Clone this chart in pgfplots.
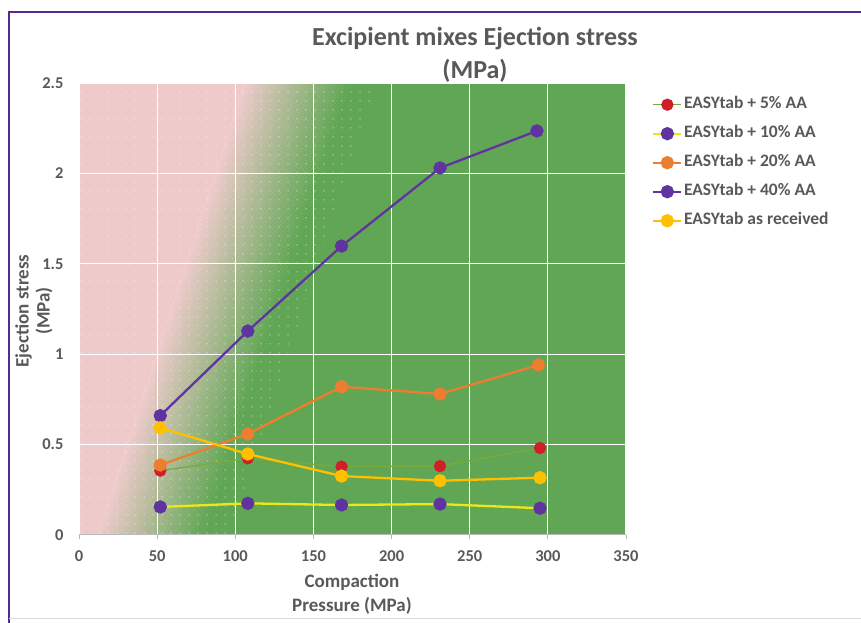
\documentclass[border=0pt]{standalone}
\usepackage{fontspec}
\setmainfont{Carlito}
\usepackage{pgfplots}
\pgfplotsset{compat=1.18}
\usetikzlibrary{patterns.meta}

\definecolor{txtgray}{RGB}{89,89,89}
\definecolor{framepurple}{RGB}{88,40,140}
\definecolor{pinkbg}{RGB}{238,202,202}
\definecolor{greenbg}{RGB}{96,166,84}
\definecolor{olive}{RGB}{120,170,60}
\definecolor{redmk}{RGB}{210,30,40}
\definecolor{yel}{RGB}{236,232,24}
\definecolor{purp}{RGB}{96,52,160}
\definecolor{orng}{RGB}{237,125,49}
\definecolor{gold}{RGB}{255,192,0}

% series: compaction pressure (MPa) vs ejection stress (MPa)
\pgfplotstableread{
x y
52 0.356
108 0.424
168 0.378
231 0.381
295 0.481
}\fivepct
\pgfplotstableread{
x y
52 0.155
108 0.175
168 0.166
231 0.171
295 0.148
}\tenpct
\pgfplotstableread{
x y
52 0.387
108 0.559
168 0.820
231 0.780
294 0.940
}\twentypct
\pgfplotstableread{
x y
52 0.660
108 1.128
168 1.598
231 2.030
293 2.235
}\fortypct
\pgfplotstableread{
x y
52 0.593
108 0.448
168 0.326
231 0.300
295 0.317
}\received

\begin{document}
\begin{tikzpicture}[x=1pt,y=1pt]
\useasboundingbox (0,0) rectangle (861,623);
% outer frame
\draw[framepurple, line width=2.5pt] (9,0) -- (9,611) -- (861,611);
\draw[gray!30, line width=1pt] (9,4) -- (861,4);

% plot area fill (pink to green, diagonal)
\begin{scope}
  \clip (79,88) rectangle (626,540);
  \begin{scope}[shift={(224,314)}, rotate=-18]
    \fill[pinkbg] (-900,-900) rectangle (-50,900);
    \foreach \i in {0,...,39} {
      \pgfmathsetmacro\p{100-\i*100/39}
      \fill[pinkbg!\p!greenbg] (-50+\i*2.5,-900) rectangle (-50+\i*2.5+2.7,900);
    }
    \fill[greenbg] (50,-900) rectangle (900,900);
    \fill[pattern={Dots[distance=9pt, radius=0.75pt]}, pattern color=white, opacity=0.5]
      (-900,-900) rectangle (75,900);
  \end{scope}
\end{scope}

\begin{axis}[
    at={(79pt,88pt)}, anchor=south west,
    width=547pt, height=452pt, scale only axis,
    xmin=0, xmax=350, ymin=0, ymax=2.5,
    xtick={0,50,100,150,200,250,300,350},
    ytick={0,0.5,1,1.5,2,2.5},
    axis x line*=bottom, axis y line*=left,
    x axis line style={gray!55, line width=1pt, -},
    y axis line style={draw=none},
    tick align=outside, major tick length=4pt,
    xtick style={gray!55, line width=1pt},
    ytick style={draw=none},
    grid=major, grid style={white, line width=1.2pt},
    ticklabel style={font=\bfseries\fontsize{16.5}{18}\selectfont, text=txtgray},
    /pgf/number format/assume math mode=true,
    xticklabel style={yshift=-8pt},
    yticklabel style={xshift=-8pt},
    legend style={at={(rel axis cs:1,1)}, anchor=north west, xshift=26pt, yshift=-12pt,
      draw=none, fill=none, inner sep=0pt, row sep=10pt,
      nodes={inner sep=1.5pt, text height=12pt, text depth=4pt,
        font=\bfseries\fontsize{17.5}{19}\selectfont, text=txtgray}},
    legend cell align=left,
    legend image code/.code={\draw[mark repeat=2, mark phase=2, #1]
      plot coordinates {(0pt,0pt) (14pt,0pt) (28pt,0pt)};},
  ]
  \addplot[olive, line width=1.3pt, mark=*, mark size=5.5pt,
    mark options={fill=redmk, draw=redmk}] table {\fivepct};
  \addlegendentry{EASYtab + 5\% AA}
  \addplot[yel, line width=2.3pt, mark=*, mark size=5.5pt,
    mark options={fill=purp, draw=purp}] table {\tenpct};
  \addlegendentry{EASYtab + 10\% AA}
  \addplot[orng, line width=2.3pt, mark=*, mark size=5.5pt,
    mark options={fill=orng, draw=orng}] table {\twentypct};
  \addlegendentry{EASYtab + 20\% AA}
  \addplot[purp, line width=2.3pt, mark=*, mark size=5.5pt,
    mark options={fill=purp, draw=purp}] table {\fortypct};
  \addlegendentry{EASYtab + 40\% AA}
  \addplot[gold, line width=2.3pt, mark=*, mark size=5.5pt,
    mark options={fill=gold, draw=gold}] table {\received};
  \addlegendentry{EASYtab as received}
\end{axis}

% titles and axis labels
\node[anchor=base, font=\bfseries\fontsize{26}{30}\selectfont, text=txtgray]
  at (475,577) {Excipient mixes Ejection stress};
\node[anchor=base, font=\bfseries\fontsize{26}{30}\selectfont, text=txtgray]
  at (475,544) {(MPa)};
\node[rotate=90, align=center, font=\bfseries\fontsize{19}{21}\selectfont, text=txtgray]
  at (34,312) {Ejection stress\\(MPa)};
\node[align=center, font=\bfseries\fontsize{19}{24}\selectfont, text=txtgray]
  at (352,29) {Compaction\\Pressure (MPa)};
\end{tikzpicture}
\end{document}
